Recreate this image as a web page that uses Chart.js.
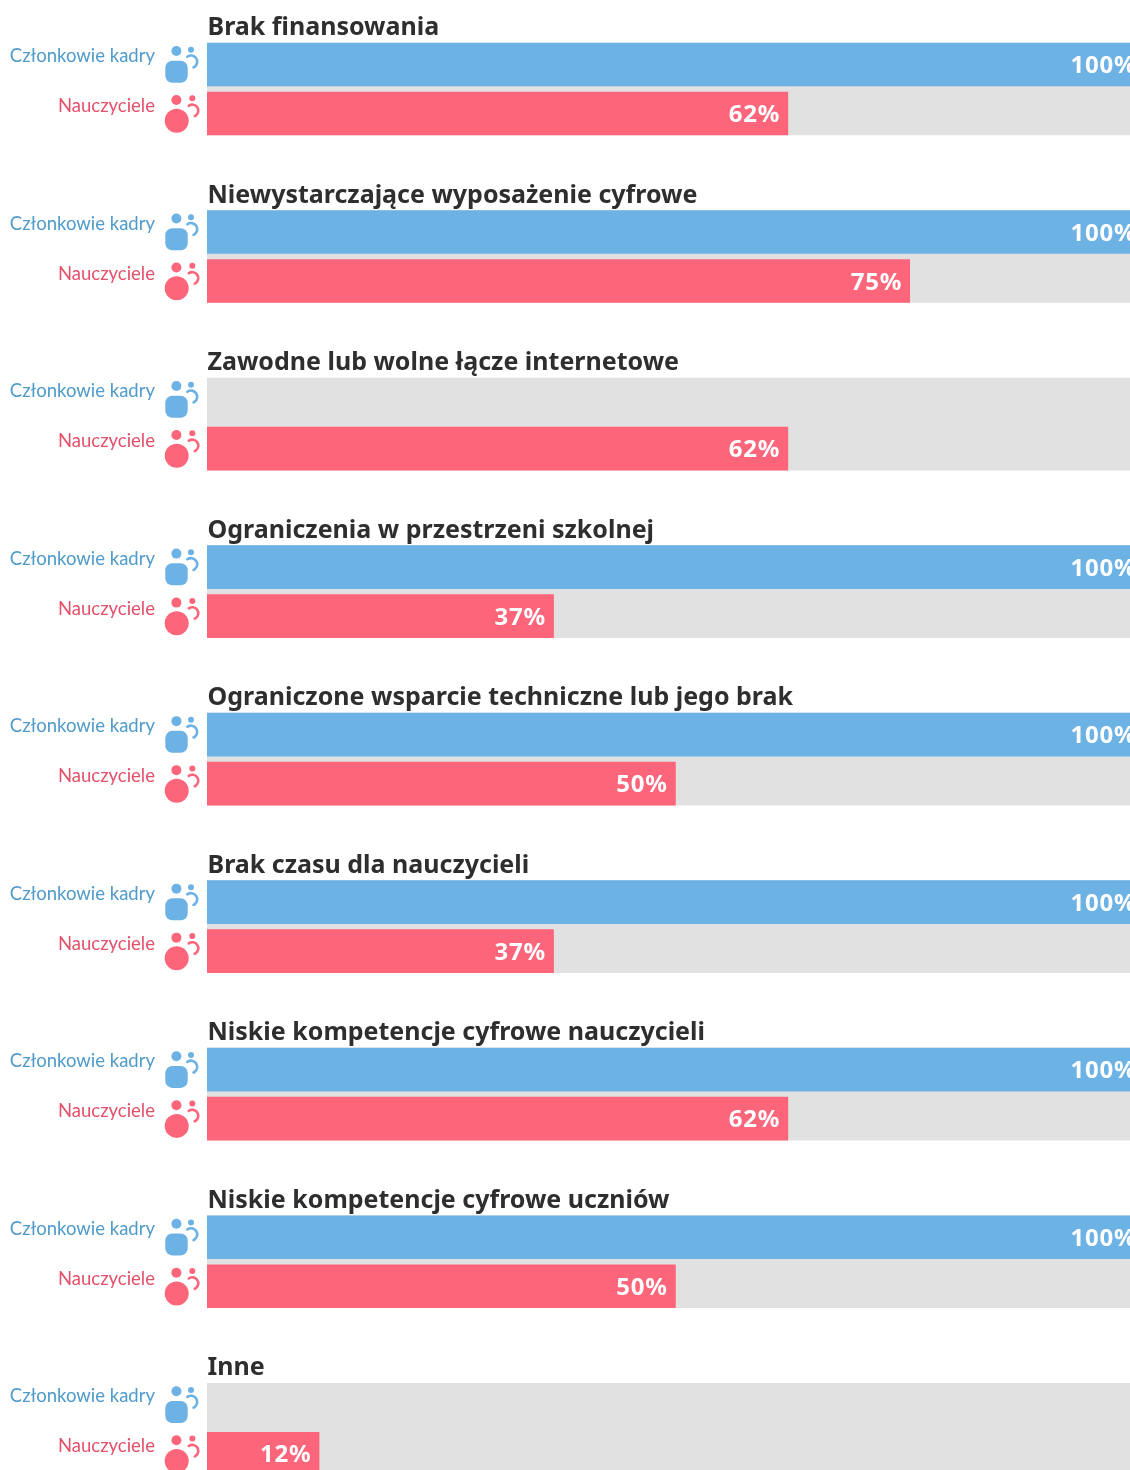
<!DOCTYPE html>
<html lang="pl">

<head>
    <meta charset="UTF-8">
    <title>Bariery</title>
    <script src="https://cdn.jsdelivr.net/npm/chart.js"></script>
    <style>
        html, body { margin: 0; padding: 0; background: #fff; height: 1470px; overflow: hidden; }
        canvas { display: block; }
    </style>
</head>

<body>
    <canvas id="wykres" width="1130" height="1513"></canvas>

    <script>
        const kategorie = [
            'Brak finansowania',
            'Niewystarczające wyposażenie cyfrowe',
            'Zawodne lub wolne łącze internetowe',
            'Ograniczenia w przestrzeni szkolnej',
            'Ograniczone wsparcie techniczne lub jego brak',
            'Brak czasu dla nauczycieli',
            'Niskie kompetencje cyfrowe nauczycieli',
            'Niskie kompetencje cyfrowe uczniów',
            'Inne'
        ];
        const czlonkowieKadry = [100, 100, null, 100, 100, 100, 100, 100, null];
        const nauczyciele = [62, 75, 62, 37, 50, 37, 62, 50, 12];
        const tlo = [100, 100, 100, 100, 100, 100, 100, 100, 100];

        const NIEBIESKI = '#6cb2e4';
        const CZERWONY = '#fd667a';
        const NAPIS_NIEBIESKI = '#4f9bcb';
        const NAPIS_CZERWONY = '#e4506a';
        const SZARY = '#e1e1e1';
        const CIEMNY = '#2e2e2e';

        // ikona osoby: glowa, mala glowa, luk i tulow
        function rysujIkone(ctx, gora, kolor, okragla) {
            ctx.fillStyle = kolor;
            ctx.strokeStyle = kolor;
            ctx.beginPath();
            ctx.arc(176.4, gora + 8, 5, 0, Math.PI * 2);
            ctx.fill();
            ctx.beginPath();
            ctx.arc(okragla ? 192.3 : 191, gora + (okragla ? 6.3 : 6.7), 3, 0, Math.PI * 2);
            ctx.fill();
            ctx.lineWidth = 2.6;
            ctx.lineCap = 'round';
            ctx.beginPath();
            if (okragla) {
                ctx.arc(192.3, gora + 18.6, 6, -2.2, 1.15);
            } else {
                ctx.arc(191, gora + 18.7, 6.2, -2.2, 1.15);
            }
            ctx.stroke();
            ctx.beginPath();
            if (okragla) {
                ctx.arc(176.7, gora + 28.7, 12, 0, Math.PI * 2);
            } else {
                ctx.roundRect(165.3, gora + 17.7, 22.4, 22, 7);
            }
            ctx.fill();
        }

        const napisy = {
            id: 'napisy',
            afterDatasetsDraw(chart) {
                const ctx = chart.ctx;
                const skalaX = chart.scales.x;
                const kadra = chart.getDatasetMeta(1).data;
                const naucz = chart.getDatasetMeta(2).data;

                ctx.save();
                ctx.textBaseline = 'alphabetic';
                for (let i = 0; i < kategorie.length; i++) {
                    const goraKadra = kadra[i].y - 21.5;
                    const goraNaucz = naucz[i].y - 21.5;

                    ctx.textAlign = 'left';
                    ctx.fillStyle = CIEMNY;
                    ctx.font = '700 25px "Noto Sans"';
                    ctx.letterSpacing = '0px';
                    ctx.fillText(kategorie[i], 207.5, goraKadra - 8);

                    ctx.textAlign = 'right';
                    ctx.font = '400 18.5px Lato';
                    ctx.fillStyle = NAPIS_NIEBIESKI;
                    ctx.fillText('Członkowie kadry', 155, goraKadra + 19);
                    ctx.fillStyle = NAPIS_CZERWONY;
                    ctx.fillText('Nauczyciele', 155, goraNaucz + 20);

                    rysujIkone(ctx, goraKadra, NIEBIESKI, false);
                    rysujIkone(ctx, goraNaucz, CZERWONY, true);

                    ctx.font = '700 24px "Noto Sans"';
                    ctx.letterSpacing = '0.8px';
                    ctx.fillStyle = '#ffffff';
                    if (czlonkowieKadry[i] !== null) {
                        ctx.fillText(czlonkowieKadry[i] + '%', skalaX.getPixelForValue(czlonkowieKadry[i]) - 8, goraKadra + 30);
                    }
                    ctx.fillText(nauczyciele[i] + '%', skalaX.getPixelForValue(nauczyciele[i]) - 8, goraNaucz + 30);
                }
                ctx.restore();
            }
        };

        new Chart(document.getElementById('wykres'), {
            type: 'bar',
            data: {
                labels: kategorie,
                datasets: [
                    {
                        label: 'tlo',
                        data: tlo,
                        backgroundColor: SZARY,
                        barThickness: 92,
                        grouped: false,
                        order: 2
                    },
                    {
                        label: 'Członkowie kadry',
                        data: czlonkowieKadry,
                        backgroundColor: NIEBIESKI,
                        borderColor: 'rgba(0,0,0,0)',
                        borderWidth: { top: 3, bottom: 3, left: 0, right: 0 },
                        barThickness: 49,
                        order: 1
                    },
                    {
                        label: 'Nauczyciele',
                        data: nauczyciele,
                        backgroundColor: CZERWONY,
                        borderColor: 'rgba(0,0,0,0)',
                        borderWidth: { top: 3, bottom: 3, left: 0, right: 0 },
                        barThickness: 49,
                        order: 1
                    }
                ]
            },
            options: {
                indexAxis: 'y',
                responsive: false,
                animation: false,
                events: [],
                layout: { padding: { left: 207, top: 5.25, right: 0, bottom: 0 } },
                plugins: {
                    legend: { display: false },
                    tooltip: { enabled: false }
                },
                scales: {
                    x: { display: false, min: 0, max: 98.45 },
                    y: { display: false }
                }
            },
            plugins: [napisy]
        });
    </script>
</body>

</html>
